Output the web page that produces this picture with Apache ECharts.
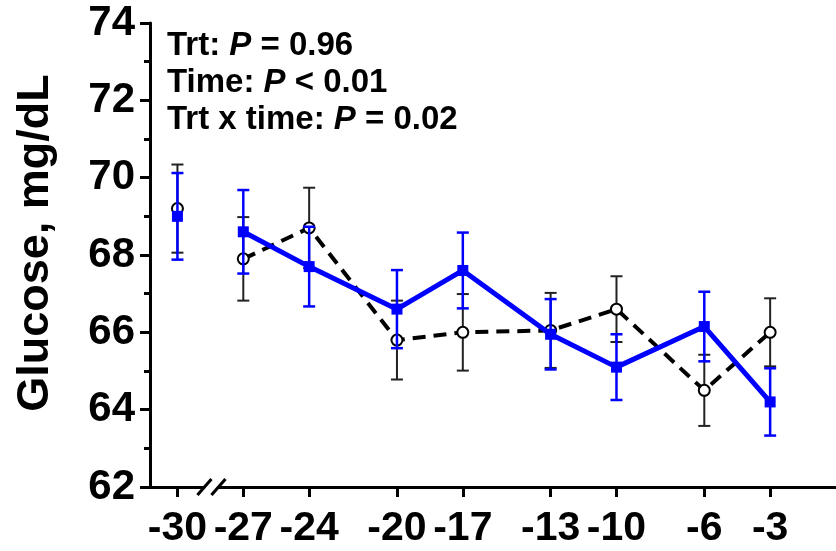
<!DOCTYPE html>
<html>
<head>
<meta charset="utf-8">
<script src="https://cdn.jsdelivr.net/npm/echarts@6/dist/echarts.min.js"></script>
<style>
  html, body { margin: 0; padding: 0; background: #fff; }
  #chart { width: 836px; height: 551px; }
</style>
</head>
<body>
<div id="chart"></div>
<script>
// days relative to event
const days = [-30, -27, -24, -20, -17, -13, -10, -6, -3];
const tickDays = [-30, -27, -24, -20, -17, -13, -10, -6, -3];

// control (black dashed, open circles)
const ctlMean = [69.2, 67.9, 68.7, 65.8, 66.0, 66.05, 66.6, 64.5, 66.0];
const ctlSE = [1.14, 1.08, 1.04, 1.02, 0.99, 0.97, 0.85, 0.92, 0.88];

// treatment (blue solid, squares)
const trtMean = [69.0, 68.6, 67.7, 66.6, 67.6, 65.95, 65.1, 66.15, 64.2];
const trtSE = [1.12, 1.08, 1.03, 1.01, 0.98, 0.91, 0.85, 0.9, 0.87];

const FONT = '"Liberation Sans", Arial, Helvetica, sans-serif';
const BLUE = '#0000ff';

const chart = echarts.init(document.getElementById('chart'));

// line data: break the line between -30 and -27 (axis break)
function lineData(mean) {
    const d = days.map((x, i) => [x, mean[i]]);
    d.splice(1, 0, [-28.5, '-']);
    return d;
}

function errData(mean, se) {
    return days.map((x, i) => [x, mean[i] - se[i], mean[i] + se[i]]);
}

function errorBars(color, width) {
    return function (params, api) {
        const x = api.value(0);
        const lo = api.coord([x, api.value(1)]);
        const hi = api.coord([x, api.value(2)]);
        const cap = 6;
        const style = { stroke: color, lineWidth: width };
        return {
            type: 'group',
            children: [
                { type: 'line', shape: { x1: lo[0], y1: lo[1], x2: hi[0], y2: hi[1] }, style },
                { type: 'line', shape: { x1: lo[0] - cap, y1: lo[1], x2: lo[0] + cap, y2: lo[1] }, style },
                { type: 'line', shape: { x1: hi[0] - cap, y1: hi[1], x2: hi[0] + cap, y2: hi[1] }, style }
            ]
        };
    };
}

const option = {
    animation: false,
    title: {
        left: 162,
        top: 22,
        text: '{b|Trt: }{i|P}{b| = 0.96}\n{b|Time: }{i|P}{b| < 0.01}\n{b|Trt x time: }{i|P}{b| = 0.02}',
        textStyle: {
            rich: {
                b: { fontFamily: FONT, fontWeight: 'bold', fontSize: 33, color: '#000', lineHeight: 37 },
                i: { fontFamily: FONT, fontWeight: 'bold', fontStyle: 'italic', fontSize: 33, color: '#000', lineHeight: 37 }
            }
        }
    },
    grid: { left: 150, right: 0, top: 23, bottom: 64 },
    xAxis: {
        type: 'value',
        min: -31.25,
        max: 0,
        splitLine: { show: false },
        axisLine: { onZero: false, lineStyle: { color: '#000', width: 3 } },
        axisTick: {
            customValues: tickDays,
            length: 10,
            lineStyle: { color: '#000', width: 3 }
        },
        axisLabel: {
            customValues: tickDays,
            margin: 21,
            color: '#000',
            fontFamily: FONT,
            fontWeight: 'bold',
            fontSize: 41
        }
    },
    yAxis: {
        type: 'value',
        min: 62,
        max: 74,
        interval: 2,
        name: 'Glucose, mg/dL',
        nameLocation: 'middle',
        nameGap: 92,
        nameTextStyle: {
            color: '#000',
            fontFamily: FONT,
            fontWeight: 'bold',
            fontSize: 45,
            padding: [0, 0, 0, 24]
        },
        splitLine: { show: false },
        axisLine: { show: true, onZero: false, lineStyle: { color: '#000', width: 3 } },
        axisTick: { show: true, length: 10, lineStyle: { color: '#000', width: 3 } },
        minorTick: { show: true, splitNumber: 2, length: 6, lineStyle: { color: '#000', width: 3 } },
        axisLabel: {
            margin: 15,
            color: '#000',
            fontFamily: FONT,
            fontWeight: 'bold',
            fontSize: 42
        }
    },
    series: [
        {
            type: 'custom',
            renderItem: errorBars('#222', 2),
            data: errData(ctlMean, ctlSE),
            z: 1
        },
        {
            type: 'line',
            data: lineData(ctlMean),
            symbol: 'circle',
            symbolSize: 11,
            itemStyle: { color: '#fff', borderColor: '#000', borderWidth: 2 },
            lineStyle: { color: '#000', width: 4, type: [13, 8] },
            z: 2
        },
        {
            type: 'custom',
            renderItem: errorBars(BLUE, 2.5),
            data: errData(trtMean, trtSE),
            z: 3
        },
        {
            type: 'line',
            data: lineData(trtMean),
            symbol: 'rect',
            symbolSize: 11,
            itemStyle: { color: BLUE },
            lineStyle: { color: BLUE, width: 5 },
            z: 4
        }
    ]
};

chart.setOption(option);

// axis break marks "//" on the x axis between -30 and -27
const bp = chart.convertToPixel({ gridIndex: 0 }, [-28.45, 62]);
const slash = (dx) => ({
    type: 'line',
    shape: { x1: bp[0] + dx - 7, y1: bp[1] + 8, x2: bp[0] + dx + 7, y2: bp[1] - 8 },
    style: { stroke: '#000', lineWidth: 3 },
    z: 10
});
chart.setOption({
    graphic: [
        { type: 'rect', shape: { x: bp[0] - 7, y: bp[1] - 3, width: 14, height: 6 }, style: { fill: '#fff' }, z: 9 },
        slash(-7),
        slash(7)
    ]
});
</script>
</body>
</html>
